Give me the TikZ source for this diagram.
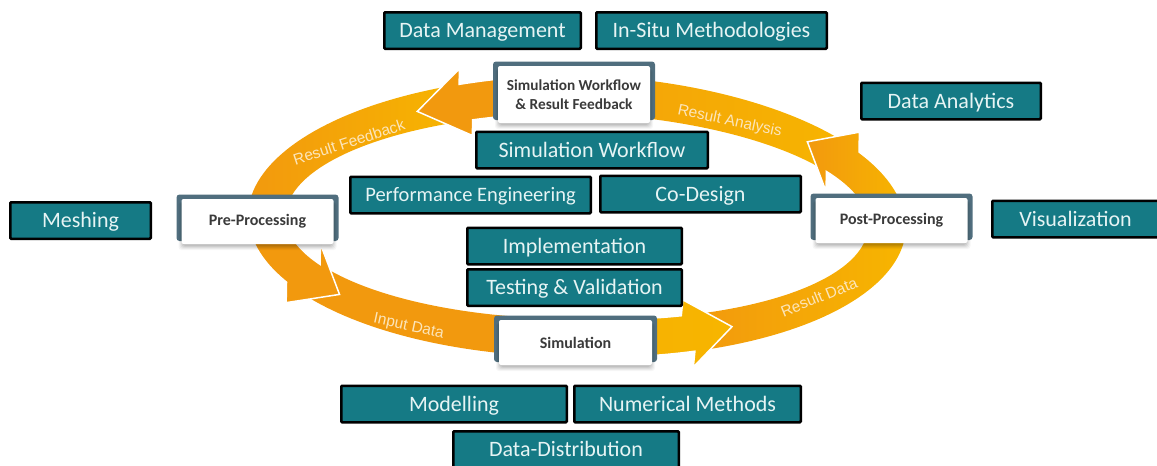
\documentclass[tikz,border=0pt]{standalone}
\usepackage{fontspec}
\setmainfont{Carlito}
\newfontfamily\bandfont{Liberation Sans}
\usetikzlibrary{calc}

\definecolor{boxteal}{RGB}{21,122,133}
\definecolor{boxtext}{RGB}{230,244,244}
\definecolor{ringorange}{RGB}{242,153,14}
\definecolor{ringyellow}{RGB}{247,181,0}
\definecolor{framegray}{RGB}{80,110,126}
\definecolor{nodetext}{RGB}{58,58,58}
\definecolor{bandtxt}{RGB}{252,229,186}

\tikzset{
  topic/.style={draw=black, line width=2.5pt, fill=boxteal, text=boxtext,
    font=\fontsize{22}{24}\selectfont, rounded corners=1pt,
    minimum height=36.5pt, inner sep=0pt, text height=14pt, text depth=0pt},
  stage/.style={fill=white, rounded corners=2pt, text=nodetext,
    font=\bfseries\fontsize{16}{19}\selectfont, minimum width=152pt,
    minimum height=45pt, inner sep=0pt, align=center},
  frame/.style={fill=framegray, rounded corners=3pt},
  ring/.style={fill=ringorange},
  arrowring/.style={draw=white, line width=1.5pt, line join=miter, miter limit=10},
  bandlabel/.style={text=bandtxt, font=\bandfont\fontsize{15.5}{16}\selectfont,
    inner sep=0pt, text height=11pt, text depth=0pt},
  % plain ring segment between two angles
  band/.style n args={2}{insert path={
    plot[domain=#1:#2,samples=40] ({ex(\x,19)},{ey(\x,19)})
    -- plot[domain=0:1,samples=40] ({ex(#2-(#2-#1)*\x,-19)},{ey(#2-(#2-#1)*\x,-19)})
    -- cycle}},
  % ring segment ending in an arrow head: start, head base, tip
  arrowband/.style n args={3}{insert path={
    plot[domain=#1:#2,samples=30] ({ex(\x,19)},{ey(\x,19)})
    -- ($({ex(#2,0)},{ey(#2,0)})!34pt!-90:({ex(#3,0)},{ey(#3,0)})$)
    -- ({ex(#3,0)},{ey(#3,0)})
    -- ($({ex(#2,0)},{ey(#2,0)})!34pt!90:({ex(#3,0)},{ey(#3,0)})$)
    -- plot[domain=0:1,samples=30] ({ex(#2-(#2-#1)*\x,-19)},{ey(#2-(#2-#1)*\x,-19)})
    -- cycle}},
}

% slate frame and soft shadow behind a stage box
\newcommand\stageback[3]{%
  \fill[frame] ([shift={(-#2-5,-#3-4.5)}]#1) rectangle ([shift={(#2+5,#3-3)}]#1);
  \foreach \s/\o in {6/0.035,5/0.045,4/0.055,3/0.065,2/0.075}{%
    \fill[black, opacity=\o, rounded corners=3pt]
      ([shift={(-#2-\s+3,-#3+3)}]#1) rectangle ([shift={(#2+\s-3,#3+\s)}]#1);}%
}

\begin{document}
\begin{tikzpicture}[x=1pt,y=-1pt,
  declare function={ex(\p,\q)=577+(310+\q)*cos(\p);
                    ey(\p,\q)=216-(122+\q)*sin(\p)+10*max(0,cos(\p));}]
\useasboundingbox (0,0) rectangle (1157,466);

% ---- ring: plain segments ----
\path[ring, band={211}{272}];
\path[left color=ringorange, right color=ringyellow, band={293}{360}];
\path[left color=ringorange!70!ringyellow, middle color=ringorange, right color=ringyellow, band={33}{90}];
\path[left color=ringorange, middle color=ringorange, right color=ringyellow, band={113}{182}];

% ---- ring: arrow segments ----
\path[arrowring, fill=ringorange, arrowband={178}{208}{220}];
\path[arrowring, left color=ringyellow!85!ringorange, right color=ringyellow, arrowband={268}{291}{300}];
\path[arrowring, left color=ringorange, right color=ringyellow, arrowband={358}{391}{402}];
\path[arrowring, fill=ringorange, arrowband={88}{111}{121}];

% ---- labels on the ring ----
\node[bandlabel, rotate=18] (lfeed) at (349,142) {Result Feedback};
\node[bandlabel, rotate=-12] (lanal) at (730,120) {Result Analysis};
\node[bandlabel, rotate=-12] (linput) at (409,325) {Input Data};
\node[bandlabel, rotate=22] (lrdata) at (819,297) {Result Data};

% ---- stage boxes on the ring ----
\coordinate (cpre) at (257.5,221.5);
\coordinate (cpost) at (891.5,220.5);
\coordinate (csim) at (575.5,342.5);
\coordinate (cflow) at (574,94.5);
\stageback{cpre}{76}{22.5}
\stageback{cpost}{76}{22.5}
\stageback{csim}{76.5}{22.5}
\stageback{cflow}{76}{28.5}
\node[stage] (pre) at (cpre) {Pre-Processing};
\node[stage] (post) at (cpost) {Post-Processing};
\node[stage, minimum width=153pt] (sim) at (csim) {Simulation};
\node[stage, minimum height=57pt, font=\bfseries\fontsize{15.3}{19}\selectfont] (flow) at (cflow) {Simulation Workflow\\\& Result Feedback};

% ---- topic boxes ----
\node[topic, minimum width=196.5pt] (dm) at (482.5,30.5) {Data Management};
\node[topic, minimum width=230.5pt] (insitu) at (711.5,30.5) {In-Situ Methodologies};
\node[topic, minimum width=179.5pt] (da) at (951,101) {Data Analytics};
\node[topic, minimum width=231.5pt] (sw) at (592,150) {Simulation Workflow};
\node[topic, minimum width=240.5pt, font=\fontsize{20.5}{22}\selectfont, text height=13pt] (pe) at (470.5,195) {Performance Engineering};
\node[topic, minimum width=200.5pt] (cod) at (700.5,194) {Co-Design};
\node[topic, minimum width=214.5pt] (impl) at (574.5,246) {Implementation};
\node[topic, minimum width=214.5pt] (tv) at (574.5,287.5) {Testing \& Validation};
\node[topic, minimum width=140.5pt] (mesh) at (80.5,220.5) {Meshing};
\node[topic, minimum width=166.5pt] (vis) at (1075.5,219) {Visualization};
\node[topic, minimum width=225.5pt] (model) at (454,404) {Modelling};
\node[topic, minimum width=226.5pt] (num) at (687.5,404) {Numerical Methods};
\node[topic, minimum width=225.5pt] (dd) at (566,449.5) {Data-Distribution};
\end{tikzpicture}
\end{document}
